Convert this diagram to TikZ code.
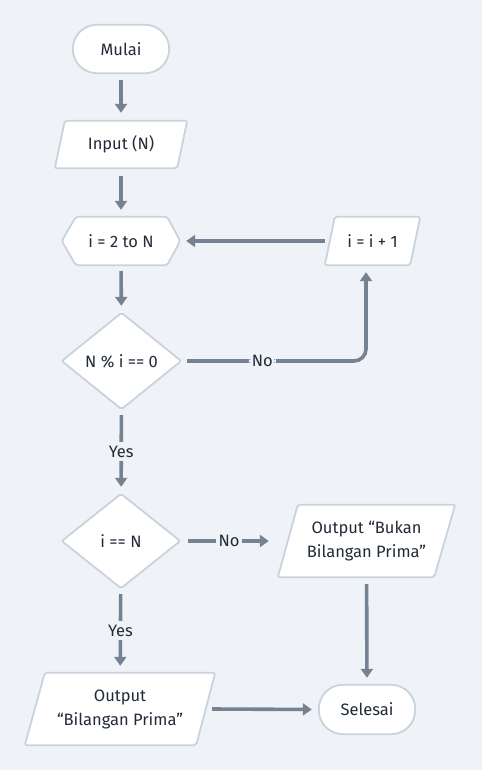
\documentclass[tikz,border=0pt]{standalone}
\usepackage{fontspec}
\setmainfont{Fira Sans}
\usetikzlibrary{arrows.meta,calc,backgrounds}
\definecolor{bgc}{HTML}{EFF3F7}
\definecolor{bordc}{HTML}{C9D3DD}
\definecolor{arrc}{HTML}{748291}
\definecolor{txtc}{HTML}{222B38}
\tikzset{
  box/.style={inner sep=0pt, minimum width=#1, text=txtc, font=\fontsize{16.5}{24}\selectfont, align=center},
  shp/.style={draw=bordc, line width=1.8pt, fill=white, rounded corners=2pt},
  arr/.style={draw=arrc, line width=3.6pt, -{Triangle[length=9pt,width=12pt]}},
  lbl/.style={fill=bgc, text=txtc, inner xsep=3pt, inner ysep=2pt, font=\fontsize{16.5}{20}\selectfont}
}
\begin{document}
\begin{tikzpicture}[x=1pt,y=-1pt]
\useasboundingbox (0,0) rectangle (482,770);
% nodes (bounding boxes)
\node[box=96pt, minimum height=48pt] (mulai) at (121,49) {Mulai};
\node[box=132pt, minimum height=47pt] (input) at (121,144.5) {Input (N)};
\node[box=118pt, minimum height=48pt] (loop) at (121,241) {i = 2 to N};
\node[box=95pt, minimum height=48pt] (incr) at (372.5,241) {i = i + 1};
\node[box=119pt, minimum height=96pt] (d1) at (121.5,361) {N \% i == 0};
\node[box=118pt, minimum height=94pt] (d2) at (121,541) {i == N};
\node[box=177pt, minimum height=72pt] (bukan) at (366.5,541) {Output “Bukan\\Bilangan Prima”};
\node[box=190pt, minimum height=72pt] (prima) at (120,709) {Output\\“Bilangan Prima”};
\node[box=96pt, minimum height=49pt] (selesai) at (367,709.5) {Selesai};
% background and shapes
\begin{scope}[on background layer]
\fill[bgc] (0,0) rectangle (482,770);
\draw[shp, rounded corners=24pt] (mulai.north west) rectangle (mulai.south east);
\draw[shp, rounded corners=24pt] (selesai.north west) rectangle (selesai.south east);
\draw[shp] ([xshift=10pt]input.north west) -- (input.north east) -- ([xshift=-10pt]input.south east) -- (input.south west) -- cycle;
\draw[shp] ([xshift=10pt]incr.north west) -- (incr.north east) -- ([xshift=-10pt]incr.south east) -- (incr.south west) -- cycle;
\draw[shp] ([xshift=20pt]bukan.north west) -- (bukan.north east) -- ([xshift=-21pt]bukan.south east) -- (bukan.south west) -- cycle;
\draw[shp] ([xshift=20pt]prima.north west) -- (prima.north east) -- ([xshift=-19pt]prima.south east) -- (prima.south west) -- cycle;
\draw[shp] (loop.west) -- ([xshift=14pt]loop.north west) -- ([xshift=-13pt]loop.north east) -- (loop.east) -- ([xshift=-13pt]loop.south east) -- ([xshift=14pt]loop.south west) -- cycle;
\draw[shp] (d1.west) -- (d1.north) -- (d1.east) -- (d1.south) -- cycle;
\draw[shp] (d2.west) -- (d2.north) -- (d2.east) -- (d2.south) -- cycle;
\end{scope}
% connectors
\draw[arr, shorten <=7pt, shorten >=8pt] (mulai) -- (input);
\draw[arr, shorten <=8pt, shorten >=7pt] (input) -- (loop);
\draw[arr, shorten <=6pt, shorten >=7pt] (loop) -- (d1);
\coordinate (c2) at ([xshift=-6.5pt,yshift=-7pt]incr.south);
\coordinate (c1) at (d1.east -| c2);
\draw[arr, rounded corners=12pt] ([xshift=6pt]d1.east) -- node[lbl, pos=0.42] (no1) {No} (c1) -- (c2);
\draw[arr, shorten >=6pt] (incr.west) -- (loop.east);
\draw[arr, shorten <=6pt, shorten >=7pt] (d1) -- node[lbl, inner ysep=4pt] (yes1) {Yes} (d2);
\draw[arr, shorten <=8pt, shorten >=9pt] (d2.east) -- node[lbl] (no2) {No} (d2.east -| bukan.west);
\draw[arr, shorten <=7pt, shorten >=7pt] (bukan) -- (selesai);
\draw[arr, shorten <=6pt, shorten >=7pt] (d2) -- node[lbl, inner ysep=4pt] (yes2) {Yes} (prima);
\draw[arr, shorten >=7pt] ([xshift=-3pt]prima.east) -- (selesai.west);
\end{tikzpicture}
\end{document}
